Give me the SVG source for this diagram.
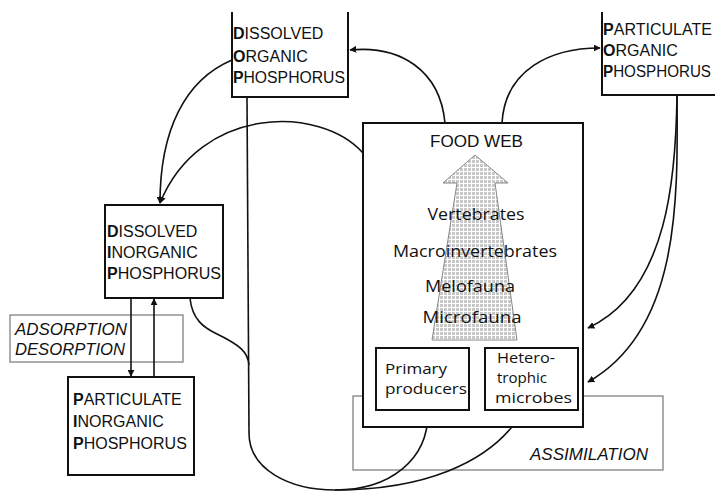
<svg xmlns="http://www.w3.org/2000/svg" width="715" height="493" viewBox="0 0 715 493">
<style>
.box{fill:#fff;stroke:#111;stroke-width:2}
.thin{fill:none;stroke:#777;stroke-width:1.2}
.lbl{font-family:"Liberation Sans",Arial,sans-serif;font-size:16px;fill:#111}
.mx{font-family:"Open Sans","Liberation Sans",Arial,sans-serif;font-size:16.5px;fill:#111}
.sm{font-family:"Open Sans","Liberation Sans",Arial,sans-serif;font-size:14.5px;fill:#111}
.it{font-style:italic}
.b{font-weight:bold}
.c{text-anchor:middle}
.conn{fill:none;stroke:#111;stroke-width:1.6}
</style>
<defs>
<marker id="ah" viewBox="0 0 10 10" refX="9" refY="5" markerWidth="7" markerHeight="7" markerUnits="userSpaceOnUse" orient="auto">
<path d="M0,0 L10,5 L0,10 z" fill="#111"/>
</marker>
<pattern id="dots" width="4" height="4" patternUnits="userSpaceOnUse">
<rect width="4" height="4" fill="#fff"/>
<rect width="3" height="3" fill="#c8c8c8"/>
</pattern>
</defs>

<g id="assimilation">
<rect class="thin" x="353" y="396" width="310" height="74"/>
<text class="lbl it" x="530" y="460" textLength="118" lengthAdjust="spacingAndGlyphs">ASSIMILATION</text>
</g>

<g id="adsorption">
<rect class="thin" x="10" y="315" width="173" height="47"/>
<text class="lbl it" x="15" y="335" textLength="112" lengthAdjust="spacingAndGlyphs">ADSORPTION</text>
<text class="lbl it" x="15" y="355" textLength="110" lengthAdjust="spacingAndGlyphs">DESORPTION</text>
</g>

<g id="connectors">
<path class="conn" d="M445,123 C440,70 400,45 350,50" marker-end="url(#ah)"/>
<path class="conn" d="M502,123 C505,70 550,48 600,48" marker-end="url(#ah)"/>
<path class="conn" d="M232,60 C185,80 160,130 160,203" marker-end="url(#ah)"/>
<path class="conn" d="M363,153 C320,105 200,105 160,203" marker-end="url(#ah)"/>
<path class="conn" d="M131,298 L131,376" marker-end="url(#ah)"/>
<path class="conn" d="M154,377 L154,299" marker-end="url(#ah)"/>
<path class="conn" d="M247,97 L249,433"/>
<path class="conn" d="M190,298 C192,320 205,328 215,333 C240,345 248,352 249,365"/>
<path class="conn" d="M249,433 C249,470 290,490 335,490 C390,490 428,460 428,413" marker-end="url(#ah)"/>
<path class="conn" d="M335,490 C420,490 490,465 522,413" marker-end="url(#ah)"/>
<path class="conn" d="M677,95 C676,170 670,290 588,328" marker-end="url(#ah)"/>
<path class="conn" d="M677,95 C678,200 680,330 588,382" marker-end="url(#ah)"/>
</g>

<g id="dop">
<path class="box" d="M232,12 L232,97 L348,97 L348,12" />
<text class="lbl" x="233" y="39"><tspan class="b">D</tspan>ISSOLVED</text>
<text class="lbl" x="233" y="62"><tspan class="b">O</tspan>RGANIC</text>
<text class="lbl" x="233" y="83" textLength="112" lengthAdjust="spacingAndGlyphs"><tspan class="b">P</tspan>HOSPHORUS</text>
</g>

<g id="pop">
<path class="box" d="M602,12 L602,95 L716,95" />
<text class="lbl" x="603" y="35" textLength="109" lengthAdjust="spacingAndGlyphs"><tspan class="b">P</tspan>ARTICULATE</text>
<text class="lbl" x="603" y="56"><tspan class="b">O</tspan>RGANIC</text>
<text class="lbl" x="603" y="77" textLength="108" lengthAdjust="spacingAndGlyphs"><tspan class="b">P</tspan>HOSPHORUS</text>
</g>

<g id="dip">
<rect class="box" x="105" y="205" width="118" height="93"/>
<text class="lbl" x="107" y="237"><tspan class="b">D</tspan>ISSOLVED</text>
<text class="lbl" x="107" y="258"><tspan class="b">I</tspan>NORGANIC</text>
<text class="lbl" x="107" y="279" textLength="114" lengthAdjust="spacingAndGlyphs"><tspan class="b">P</tspan>HOSPHORUS</text>
</g>

<g id="pip">
<rect class="box" x="68" y="377" width="126" height="98"/>
<text class="lbl" x="73" y="405"><tspan class="b">P</tspan>ARTICULATE</text>
<text class="lbl" x="73" y="427"><tspan class="b">I</tspan>NORGANIC</text>
<text class="lbl" x="73" y="449"><tspan class="b">P</tspan>HOSPHORUS</text>
</g>

<g id="foodweb">
<rect class="box" x="363" y="123" width="220" height="304"/>
<text class="lbl" x="430" y="147" textLength="93" lengthAdjust="spacingAndGlyphs">FOOD WEB</text>
<polygon points="475,155 508,183 495,183 517,340 432,340 457,183 443,183" fill="url(#dots)" stroke="#888" stroke-width="1"/>
<text class="mx c" x="476" y="220" textLength="97" lengthAdjust="spacingAndGlyphs">Vertebrates</text>
<text class="mx c" x="475" y="257" textLength="164" lengthAdjust="spacingAndGlyphs">Macroinvertebrates</text>
<text class="mx c" x="470" y="292" textLength="90" lengthAdjust="spacingAndGlyphs">Melofauna</text>
<text class="mx c" x="472" y="323" textLength="99" lengthAdjust="spacingAndGlyphs">Microfauna</text>
</g>

<g id="primary">
<rect class="box" x="376" y="348" width="93" height="62"/>
<text class="sm" x="385" y="374" textLength="62" lengthAdjust="spacingAndGlyphs">Primary</text>
<text class="sm" x="385" y="394" textLength="82" lengthAdjust="spacingAndGlyphs">producers</text>
</g>

<g id="hetero">
<rect class="box" x="485" y="348" width="93" height="62"/>
<text class="sm" x="497" y="363" textLength="58" lengthAdjust="spacingAndGlyphs">Hetero-</text>
<text class="sm" x="497" y="383" textLength="50" lengthAdjust="spacingAndGlyphs">trophic</text>
<text class="sm" x="495" y="403" textLength="77" lengthAdjust="spacingAndGlyphs">microbes</text>
</g>
</svg>
